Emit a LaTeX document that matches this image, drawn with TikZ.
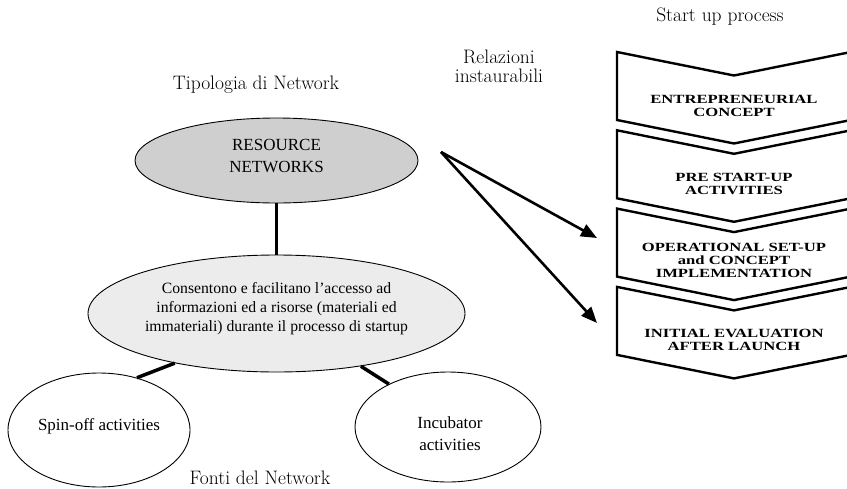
\documentclass[tikz,border=0pt]{standalone}
\usepackage{fontspec}
\newfontfamily\timesfont{Liberation Serif}
\newfontfamily\chevfont[FakeStretch=1.33]{Liberation Serif}
\usetikzlibrary{shapes.geometric,arrows.meta}

\begin{document}
\begin{tikzpicture}[x=1pt,y=-1pt,
  heading/.style={font=\fontsize{19.5}{19}\selectfont, align=center, inner sep=0},
  bubble/.style={ellipse, draw, line width=0.9pt, inner sep=0},
  bubbletext/.style={font=\timesfont\fontsize{17}{22}\selectfont, align=center, inner sep=0},
  link/.style={line width=3.5pt},
  relarrow/.style={line width=2.6pt, -{Triangle[length=16pt,width=13pt]}},
  chevron/.style={draw, line width=2.4pt, line join=miter, fill=white},
  stagetext/.style={font=\chevfont\bfseries\fontsize{12.5}{13}\selectfont, align=center, inner sep=0},
]
\useasboundingbox (0,0) rectangle (847,488);

% headings
\node[heading] (hstart) at (720,17) {Start up process};
\node[heading] (hrel) at (499,66) {Relazioni\\instaurabili};
\node[heading] (htip) at (256,85) {Tipologia di Network};
\node[heading] (hfonti) at (260,478) {Fonti del Network};

% start-up process: four stacked chevrons
\foreach \y in {52,130.3,208.6,286.9} {
  \draw[chevron] (617,\y) -- (734,\y+23.5) -- (851,\y) -- (851,\y+68)
    -- (734,\y+91.5) -- (617,\y+68) -- cycle;
}
\node[stagetext] (s1) at (734,106) {ENTREPRENEURIAL\\CONCEPT};
\node[stagetext] (s2) at (734,184) {PRE START-UP\\ACTIVITIES};
\node[stagetext] (s3) at (734,260) {OPERATIONAL SET-UP\\and CONCEPT\\IMPLEMENTATION};
\node[stagetext] (s4) at (734,340) {INITIAL EVALUATION\\AFTER LAUNCH};

% network bubbles
\node[bubble, fill=gray!38, minimum width=283pt, minimum height=85pt] (res) at (276.5,160.5) {};
\node[bubbletext] (restext) at (276.5,156) {RESOURCE\\NETWORKS};

\node[bubble, fill=gray!15, minimum width=377pt, minimum height=117pt] (mid) at (276.5,313.5) {};
\node[bubbletext, font=\timesfont\fontsize{15.7}{19}\selectfont] (midtext) at (276.5,309)
  {Consentono e facilitano l’accesso ad\\informazioni ed a risorse (materiali ed\\immateriali) durante il processo di startup};

\node[bubble, minimum width=182pt, minimum height=114pt] (spin) at (99,430) {};
\node[bubbletext] (spintext) at (99,426) {Spin-off activities};

\node[bubble, minimum width=186pt, minimum height=110pt] (incub) at (448,427) {};
\node[bubbletext] (incubtext) at (450,434) {Incubator\\activities};

% links between bubbles
\draw[link] (res.south) -- (mid.north);
\draw[link] (spin.54) -- (mid.206);
\draw[link] (mid.328) -- (incub.144);

% relations towards the start-up stages
\coordinate (src) at (441,152);
\coordinate (tipA) at (597,238);
\coordinate (tipB) at (597,323);
\draw[relarrow] (src) -- (tipA);
\draw[relarrow] (src) -- (tipB);
\end{tikzpicture}
\end{document}
